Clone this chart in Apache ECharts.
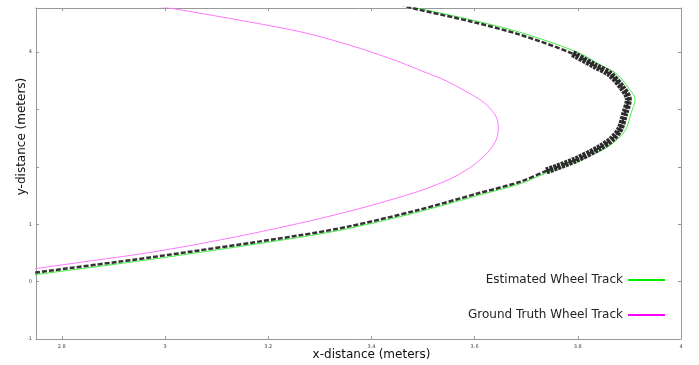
<!DOCTYPE html>
<html>
<head>
<meta charset="utf-8">
<script src="https://cdn.jsdelivr.net/npm/echarts@6/dist/echarts.min.js"></script>
<style>
  html, body { margin: 0; padding: 0; background: #fff; }
  #chart { width: 699px; height: 365px; }
</style>
</head>
<body>
<div id="chart"></div>
<script>
  // ground truth track (x, y in meters)
  const truthX = [2.700, 2.750, 2.971, 3.120, 3.261, 3.358, 3.429, 3.500, 3.555, 3.590, 3.608, 3.630, 3.643, 3.646, 3.643, 3.632, 3.614, 3.590, 3.545, 3.490, 3.445, 3.358, 3.265, 3.164, 3.019, 2.970];
  const truthY = [0.150, 0.228, 0.509, 0.750, 1.018, 1.228, 1.404, 1.600, 1.800, 1.982, 2.105, 2.300, 2.500, 2.684, 2.850, 3.000, 3.150, 3.281, 3.500, 3.700, 3.860, 4.123, 4.350, 4.526, 4.754, 4.820];

  // estimated track
  const estX = [2.720, 2.750, 2.971, 3.261, 3.358, 3.485, 3.609, 3.687, 3.739, 3.800, 3.855, 3.879, 3.894, 3.903, 3.911, 3.898, 3.874, 3.845, 3.799, 3.693, 3.600, 3.487, 3.460];
  const estY = [0.080, 0.123, 0.386, 0.772, 0.930, 1.200, 1.509, 1.702, 1.895, 2.100, 2.333, 2.500, 2.667, 2.930, 3.175, 3.380, 3.632, 3.772, 4.000, 4.333, 4.550, 4.772, 4.820];

  // raw wheel measurements (noisy band)
  const measX = [2.735, 2.750, 2.971, 3.261, 3.358, 3.485, 3.609, 3.687, 3.739, 3.795, 3.845, 3.868, 3.882, 3.891, 3.898, 3.886, 3.862, 3.834, 3.790, 3.686, 3.595, 3.483, 3.460];
  const measY = [0.130, 0.158, 0.421, 0.807, 0.965, 1.235, 1.544, 1.737, 1.930, 2.120, 2.350, 2.500, 2.667, 2.930, 3.175, 3.380, 3.620, 3.757, 3.975, 4.310, 4.530, 4.760, 4.820];

  // wider part of the band near the turn
  const tipX = [3.739, 3.795, 3.845, 3.868, 3.882, 3.891, 3.898, 3.886, 3.862, 3.834, 3.790];
  const tipY = [1.930, 2.120, 2.350, 2.500, 2.667, 2.930, 3.175, 3.380, 3.620, 3.757, 3.975];

  const xTicks = { min: 2.75, max: 4.0 };
  const yTicks = { min: -1, max: 4.77, interval: 1, hidden: [2, 3] };

  const pairs = (xs, ys) => xs.map((x, i) => [x, ys[i]]);

  const tickLabel = { fontSize: 5, color: "#444", fontFamily: "DejaVu Sans" };
  const axisLine = { onZero: false, lineStyle: { color: "#999", width: 1 } };
  const axisTick = { inside: true, length: 3, lineStyle: { color: "#999" } };
  const legendText = { fontSize: 12, color: "#222", fontFamily: "DejaVu Sans" };

  const chart = echarts.init(document.getElementById("chart"));
  chart.setOption({
    animation: false,
    grid: { left: 36, right: 18, top: 8, bottom: 26, outerBoundsMode: "none" },
    legend: [
      {
        right: 29,
        top: 269,
        align: "right",
        icon: "rect",
        itemWidth: 37,
        itemHeight: 2,
        textStyle: legendText,
        data: ["Estimated Wheel Track"],
      },
      {
        right: 29,
        top: 304,
        align: "right",
        icon: "rect",
        itemWidth: 37,
        itemHeight: 2,
        textStyle: legendText,
        data: ["Ground Truth Wheel Track"],
      },
    ],
    xAxis: [
      {
        type: "value",
        min: xTicks.min,
        max: xTicks.max,
        splitNumber: 6,
        name: "x-distance (meters)",
        nameLocation: "middle",
        nameGap: 10,
        nameMoveOverlap: false,
        nameTextStyle: { fontSize: 12, color: "#111", fontFamily: "DejaVu Sans", padding: [0, 0, 0, 26] },
        axisLine: axisLine,
        axisTick: axisTick,
        axisLabel: { ...tickLabel, margin: 5, showMinLabel: false },
        splitLine: { show: false },
      },
      {
        type: "value",
        position: "top",
        min: xTicks.min,
        max: xTicks.max,
        splitNumber: 6,
        axisLine: axisLine,
        axisTick: axisTick,
        axisLabel: { show: false },
        splitLine: { show: false },
      },
    ],
    yAxis: [
      {
        type: "value",
        min: yTicks.min,
        max: yTicks.max,
        interval: yTicks.interval,
        name: "y-distance (meters)",
        nameLocation: "middle",
        nameGap: 8,
        nameMoveOverlap: false,
        nameTextStyle: { fontSize: 12, color: "#111", fontFamily: "DejaVu Sans", padding: [0, 0, 0, 74] },
        axisLine: axisLine,
        axisTick: axisTick,
        axisLabel: {
          ...tickLabel,
          margin: 4,
          showMaxLabel: false,
          formatter: (v) => (yTicks.hidden.includes(v) ? "" : String(v)),
        },
        splitLine: { show: false },
      },
      {
        type: "value",
        position: "right",
        min: yTicks.min,
        max: yTicks.max,
        interval: yTicks.interval,
        axisLine: axisLine,
        axisTick: axisTick,
        axisLabel: { show: false },
        splitLine: { show: false },
      },
    ],
    series: [
      {
        name: "Ground Truth Wheel Track",
        type: "line",
        smooth: 0.3,
        symbol: "none",
        color: "#ff00ff",
        lineStyle: { width: 1, color: "#ff77ff" },
        data: pairs(truthX, truthY),
      },
      {
        name: "Estimated Wheel Track",
        type: "line",
        smooth: 0.3,
        symbol: "none",
        color: "#00ee00",
        lineStyle: { width: 1, color: "#44ee44" },
        data: pairs(estX, estY),
        z: 2,
      },
      {
        name: "measurements",
        type: "line",
        smooth: 0.3,
        symbol: "none",
        lineStyle: { width: 2.5, color: "#333", type: [5, 2] },
        data: pairs(measX, measY),
        z: 3,
      },
      {
        name: "measurements-tip",
        type: "line",
        smooth: 0.3,
        symbol: "none",
        lineStyle: { width: 7, color: "#2b2b2b", type: [3, 1] },
        data: pairs(tipX, tipY),
        z: 3,
      },
    ],
  });
</script>
</body>
</html>
